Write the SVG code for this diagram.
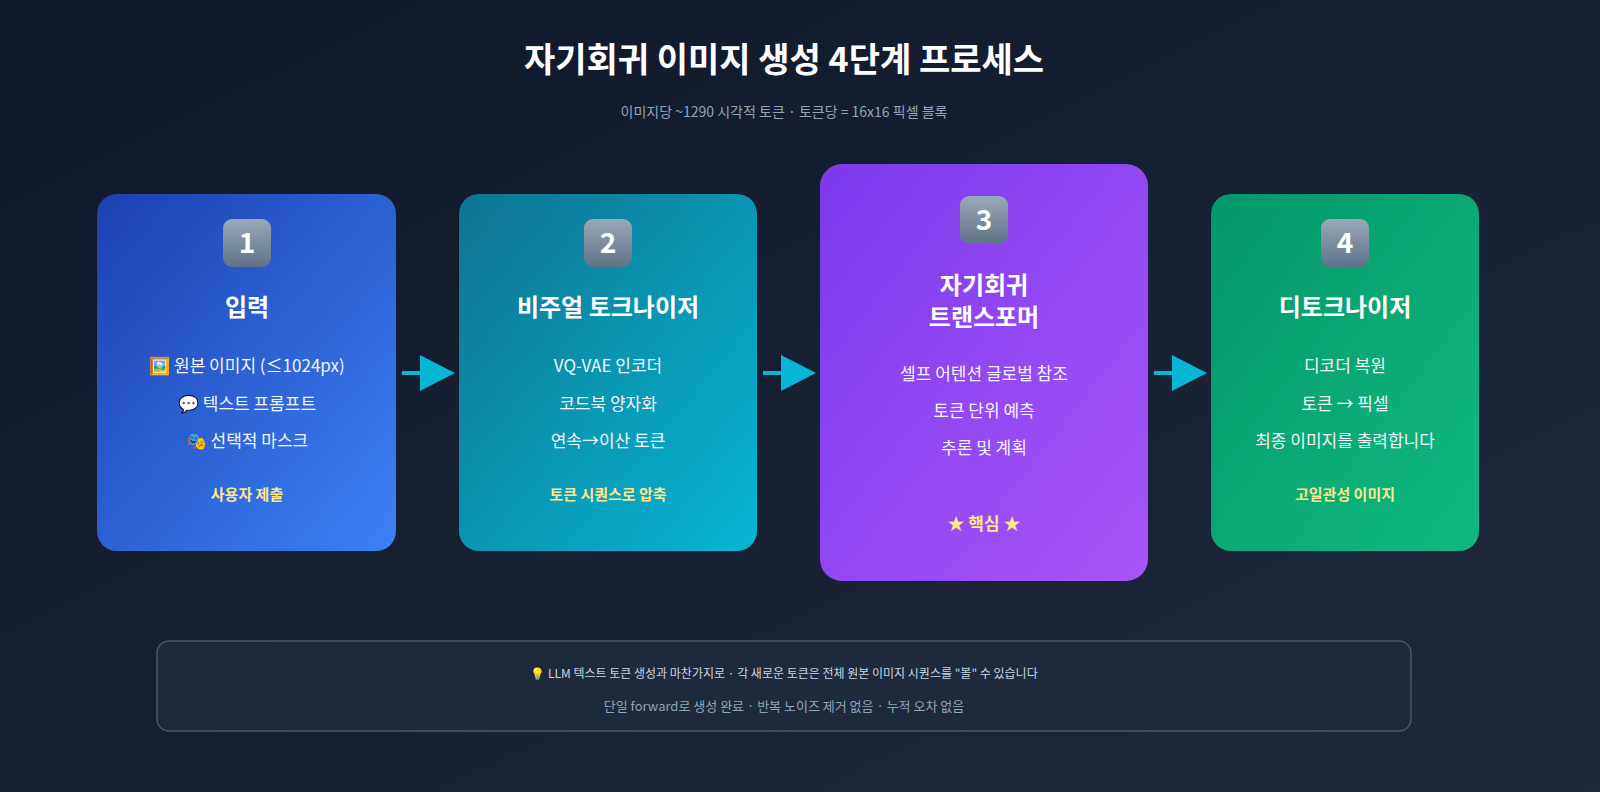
<svg xmlns="http://www.w3.org/2000/svg" width="1600" height="792" viewBox="0 0 1600 792">
<defs>
<linearGradient id="bg" x1="0" y1="0" x2="1" y2="1"><stop offset="0" stop-color="#0f172a"/><stop offset="1" stop-color="#1e293b"/></linearGradient>
<linearGradient id="g1" x1="0" y1="0" x2="1" y2="1"><stop offset="0" stop-color="#1e40af"/><stop offset="1" stop-color="#3b82f6"/></linearGradient>
<linearGradient id="g2" x1="0" y1="0" x2="1" y2="1"><stop offset="0" stop-color="#0e7490"/><stop offset="1" stop-color="#06b6d4"/></linearGradient>
<linearGradient id="g3" x1="0" y1="0" x2="1" y2="1"><stop offset="0" stop-color="#7c3aed"/><stop offset="1" stop-color="#a855f7"/></linearGradient>
<linearGradient id="g4" x1="0" y1="0" x2="1" y2="1"><stop offset="0" stop-color="#059669"/><stop offset="1" stop-color="#10b981"/></linearGradient>
<linearGradient id="kc" x1="0" y1="0" x2="0" y2="1"><stop offset="0" stop-color="#9aa9b8"/><stop offset="1" stop-color="#5f7287"/></linearGradient>
</defs>
<style>
text{font-family:"Noto Sans CJK KR","Noto Sans",sans-serif;text-anchor:middle;fill:#fff}
.t{font-size:34px;font-weight:700}
.s{font-size:14px;fill:#94a3b8}
.h{font-size:24px;font-weight:700}
.i{font-size:17px;fill:#f1f5f9}
.f{font-size:15px;font-weight:700;fill:#fde68a}
.k{font-size:28px;font-weight:700}
.n1{font-size:12px;fill:#cbd5e1}
.n2{font-size:13px;fill:#94a3b8}
</style>
<rect width="1600" height="792" fill="url(#bg)"/>
<text class="t" x="784" y="72">자기회귀 이미지 생성 4단계 프로세스</text>
<text class="s" x="784" y="117">이미지당 ~1290 시각적 토큰 · 토큰당 = 16x16 픽셀 블록</text>
<g id="n1">
<rect x="97" y="194" width="299" height="357" rx="20" fill="url(#g1)"/>
<rect x="223" y="219" width="48" height="48" rx="9" fill="url(#kc)"/><text class="k" x="247" y="253">1</text>
<text class="h" x="247" y="316">입력</text>
<text class="i" x="247" y="372">🖼️ 원본 이미지 (≤1024px)</text>
<text class="i" x="247" y="410">💬 텍스트 프롬프트</text>
<text class="i" x="247" y="447">🎭 선택적 마스크</text>
<text class="f" x="247" y="500">사용자 제출</text>
</g>
<g id="n2">
<rect x="459" y="194" width="298" height="357" rx="20" fill="url(#g2)"/>
<rect x="584" y="219" width="48" height="48" rx="9" fill="url(#kc)"/><text class="k" x="608" y="253">2</text>
<text class="h" x="608" y="316">비주얼 토크나이저</text>
<text class="i" x="608" y="372">VQ-VAE 인코더</text>
<text class="i" x="608" y="410">코드북 양자화</text>
<text class="i" x="608" y="447">연속→이산 토큰</text>
<text class="f" x="608" y="500">토큰 시퀀스로 압축</text>
</g>
<g id="n3">
<rect x="820" y="164" width="328" height="417" rx="22" fill="url(#g3)"/>
<rect x="960" y="196" width="48" height="48" rx="9" fill="url(#kc)"/><text class="k" x="984" y="230">3</text>
<text class="h" x="984" y="294">자기회귀</text>
<text class="h" x="984" y="326">트랜스포머</text>
<text class="i" x="984" y="380">셀프 어텐션 글로벌 참조</text>
<text class="i" x="984" y="417">토큰 단위 예측</text>
<text class="i" x="984" y="454">추론 및 계획</text>
<text class="f" x="984" y="530" style="font-size:17px">★ 핵심 ★</text>
</g>
<g id="n4">
<rect x="1211" y="194" width="268" height="357" rx="20" fill="url(#g4)"/>
<rect x="1321" y="219" width="48" height="48" rx="9" fill="url(#kc)"/><text class="k" x="1345" y="253">4</text>
<text class="h" x="1345" y="316">디토크나이저</text>
<text class="i" x="1345" y="372">디코더 복원</text>
<text class="i" x="1345" y="410">토큰 → 픽셀</text>
<text class="i" x="1345" y="447">최종 이미지를 출력합니다</text>
<text class="f" x="1345" y="500">고일관성 이미지</text>
</g>
<g id="connectors" fill="#06b6d4" stroke="#06b6d4">
<line x1="402" y1="373" x2="422" y2="373" stroke-width="4"/><polygon points="420,355 455,373 420,391" stroke="none"/>
<line x1="763" y1="373" x2="783" y2="373" stroke-width="4"/><polygon points="781,355 816,373 781,391" stroke="none"/>
<line x1="1154" y1="373" x2="1174" y2="373" stroke-width="4"/><polygon points="1172,355 1207,373 1172,391" stroke="none"/>
</g>
<g id="note">
<rect x="157" y="641" width="1254" height="90" rx="12" fill="#1e293b" stroke="#475569" stroke-width="1.5"/>
<text class="n1" x="784" y="678">💡 LLM 텍스트 토큰 생성과 마찬가지로 · 각 새로운 토큰은 전체 원본 이미지 시퀀스를 "볼" 수 있습니다</text>
<text class="n2" x="784" y="711">단일 forward로 생성 완료 · 반복 노이즈 제거 없음 · 누적 오차 없음</text>
</g>
</svg>
